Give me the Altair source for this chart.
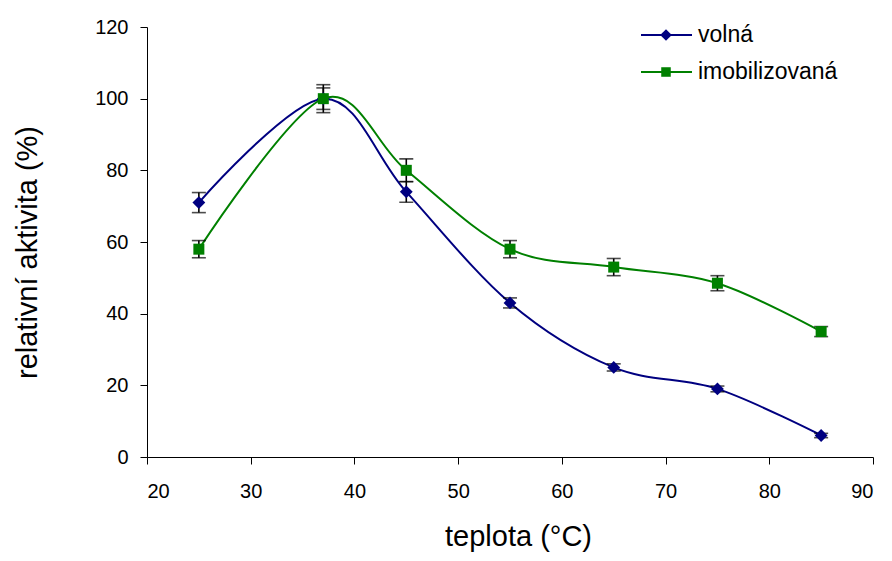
import altair as alt
import pandas as pd

temps = [25, 37, 45, 55, 65, 75, 85]
series_names = ["volná", "imobilizovaná"]
volna = [71, 100, 74, 43, 25, 19, 6]
volna_err = [2.8, 3.0, 2.9, 1.4, 1.0, 0.8, 0.6]
imob = [58, 100, 80, 58, 53, 48.5, 35]
imob_err = [2.4, 3.9, 3.2, 2.4, 2.4, 2.1, 1.4]
series_colors = ["#000080", "#008000"]
series_shapes = ["diamond", "square"]
series_sizes = [165, 121]

x_ticks = [20, 30, 40, 50, 60, 70, 80, 90]
y_ticks = [0, 20, 40, 60, 80, 100, 120]

rows = []
for name, vals, errs in [(series_names[0], volna, volna_err), (series_names[1], imob, imob_err)]:
    for t, v, e in zip(temps, vals, errs):
        rows.append({"t": t, "v": v, "lo": v - e, "hi": v + e, "s": name})
df = pd.DataFrame(rows)

FONT = "Liberation Sans"

xs = alt.Scale(domain=[20, 90], nice=False, zero=False)
ys = alt.Scale(domain=[0, 120], nice=False)

axis_common = dict(grid=False, tickSize=7, domainColor="black", tickColor="black",
                   labelFont=FONT, labelFontSize=20, labelColor="black",
                   titleFont=FONT, titleFontSize=29, titleFontWeight="normal", titleColor="black")
xax = alt.Axis(values=x_ticks, title="teplota (°C)", labelPadding=17, titlePadding=21,
               titleX=371, **axis_common)
yax = alt.Axis(values=y_ticks, title="relativní aktivita (%)", labelPadding=12, titlePadding=52,
               titleY=225, **axis_common)

base = alt.Chart(df)

lines = base.mark_line(interpolate="cardinal", tension=0, strokeWidth=2).encode(
    x=alt.X("t:Q", scale=xs, axis=xax),
    y=alt.Y("v:Q", scale=ys, axis=yax),
    color=alt.Color("s:N", scale=alt.Scale(domain=series_names, range=series_colors), legend=None),
    detail="s:N",
)

err_rule = base.mark_rule(color="black", strokeWidth=1.6).encode(
    x="t:Q", y="lo:Q", y2="hi:Q"
)
cap_lo = base.mark_tick(orient="horizontal", size=14, thickness=1.6, color="black").encode(
    x="t:Q", y="lo:Q"
)
cap_hi = base.mark_tick(orient="horizontal", size=14, thickness=1.6, color="black").encode(
    x="t:Q", y="hi:Q"
)

layers = [lines, err_rule, cap_lo, cap_hi]
for i, name in enumerate(series_names):
    layers.append(
        base.transform_filter(alt.datum.s == name).mark_point(
            shape=series_shapes[i], filled=True, size=series_sizes[i],
            color=series_colors[i], opacity=1
        ).encode(x="t:Q", y="v:Q")
    )

# legend (top right, inside the plot area)
leg_df = pd.DataFrame({"s": series_names})
leg_rows_y = [8, 45]
for i, name in enumerate(series_names):
    ld = alt.Chart(leg_df).transform_filter(alt.datum.s == name)
    layers.append(ld.mark_rule(color=series_colors[i], strokeWidth=2).encode(
        x=alt.value(494), x2=alt.value(545), y=alt.value(leg_rows_y[i])))
    layers.append(ld.mark_point(shape=series_shapes[i], filled=True, opacity=1,
                                size=series_sizes[i] - 30, color=series_colors[i]).encode(
        x=alt.value(519), y=alt.value(leg_rows_y[i])))
    layers.append(ld.mark_text(align="left", baseline="middle", font=FONT, fontSize=23,
                               color="black").encode(
        x=alt.value(551), y=alt.value(leg_rows_y[i]), text="s:N"))

chart = alt.layer(*layers).properties(
    width=726, height=430,
    autosize=alt.AutoSizeParams(type="none"),
    padding={"left": 139, "top": 19, "right": 11, "bottom": 96},
).configure_view(stroke=None)

chart.save("out.html", embed_options={"renderer": "svg", "actions": False})
